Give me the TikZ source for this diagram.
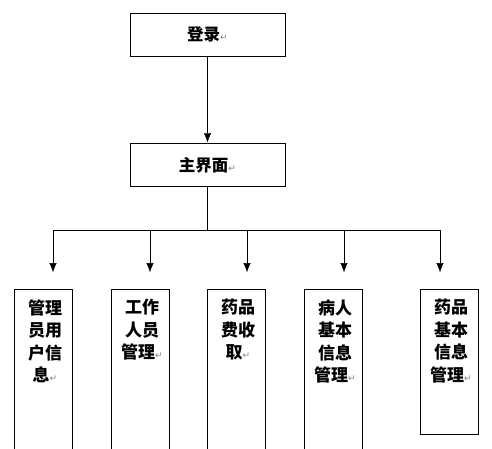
\documentclass[tikz,border=0pt]{standalone}
\usepackage{fontspec}
\newfontfamily\cjk{Noto Sans CJK SC}
\newfontfamily\symfont{DejaVu Sans}
\usetikzlibrary{arrows.meta,positioning}
\newcommand{\ret}{{\mdseries\symfont\color{gray}\fontsize{9}{9}\selectfont ↵}}

\begin{document}
\begin{tikzpicture}[x=1pt,y=-1pt]
\tikzset{ >={Latex[length=10pt,width=8pt]}, line width=0.8pt,
  topbox/.style={draw, minimum width=155pt, minimum height=43pt, inner sep=0pt,
    font=\cjk\bfseries\fontsize{16.5}{16.5}\selectfont},
  leaf/.style={draw, anchor=north, minimum width=58pt, inner sep=0pt},
  leaftext/.style={anchor=north, align=center, inner sep=0pt,
    font=\cjk\bfseries\fontsize{17}{22.5}\selectfont},
}

\useasboundingbox (0,0) rectangle (492,449);
\clip (0,0) rectangle (492,449);

\node [topbox] (login) at (207.5,34.5) {登录\ret};
\node [topbox] (main)  at (207.5,165)  {主界面\ret};

\draw [->] (login) -- (main);

\coordinate (hub)  at (207.5,230);
\coordinate (barL) at (53,230);
\coordinate (barR) at (440,230);
\draw (main) -- (hub);
\draw (barL) -- (barR);

\foreach \x [count=\i] in {53,150,247,344,440} {
  \coordinate (b\i)   at (\x,230);
  \coordinate (tip\i) at (\x,273);
  \draw [->] (b\i) -- (tip\i);
}

% module boxes
\node [leaf, minimum height=180pt] (m1) at (43,289)  {};
\node [leaf, minimum height=180pt] (m2) at (140,289) {};
\node [leaf, minimum height=180pt] (m3) at (236,289) {};
\node [leaf, minimum height=180pt] (m4) at (333,289) {};
\node [leaf, minimum height=145pt] (m5) at (449,289) {};

\node [leaftext] (t1) at (45,299)  {管理\\员用\\户信\\息\ret};
\node [leaftext] (t2) at (142,299) {工作\\人员\\管理\ret};
\node [leaftext] (t3) at (238,299) {药品\\费收\\取\ret};
\node [leaftext] (t4) at (335,299) {病人\\基本\\信息\\管理\ret};
\node [leaftext] (t5) at (451,299) {药品\\基本\\信息\\管理\ret};

\end{tikzpicture}
\end{document}
